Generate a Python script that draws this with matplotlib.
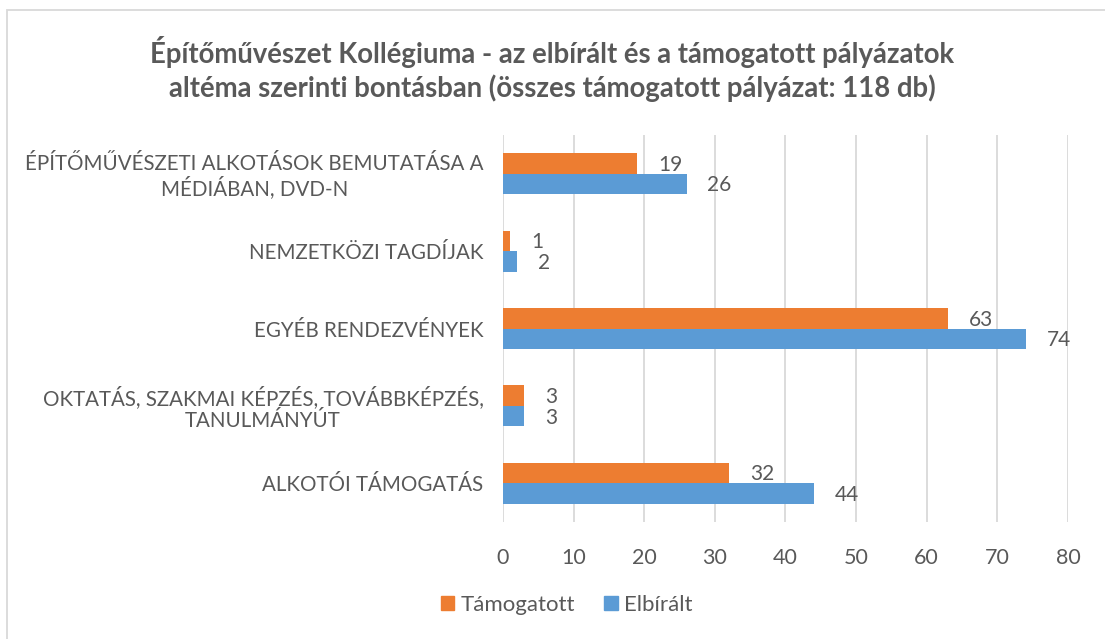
import matplotlib.pyplot as plt
import matplotlib.patches as mpatches
import numpy as np

plt.rcParams['font.family'] = ['Lato', 'DejaVu Sans']

# data (bottom to top, as drawn)
categories = ["ALKOTÓI TÁMOGATÁS",
              "OKTATÁS, SZAKMAI KÉPZÉS, TOVÁBBKÉPZÉS,\nTANULMÁNYÚT",
              "EGYÉB RENDEZVÉNYEK",
              "NEMZETKÖZI TAGDÍJAK",
              "ÉPÍTŐMŰVÉSZETI ALKOTÁSOK BEMUTATÁSA A\nMÉDIÁBAN, DVD-N"]
elbiralt = [44, 3, 74, 2, 26]
tamogatott = [32, 3, 63, 1, 19]
xticks = [0, 10, 20, 30, 40, 50, 60, 70, 80]

title = ("Építőművészet Kollégiuma - az elbírált és a támogatott pályázatok\n"
         "altéma szerinti bontásban (összes támogatott pályázat: 118 db)")

blue = "#5B9BD5"
orange = "#ED7D31"
txt = "#595959"
grid = "#D9D9D9"

fig = plt.figure(figsize=(11.05, 6.39), dpi=100)
ax = fig.add_axes([0.4552, 0.1831, 0.5113, 0.6056])

y = np.arange(len(categories))
h = 0.265
ax.barh(y - h/2, elbiralt, height=h, color=blue, zorder=3)
ax.barh(y + h/2, tamogatott, height=h, color=orange, zorder=3)

# value labels
for yy, v in zip(y, elbiralt):
    ax.annotate(str(v), (v, yy - h/2), xytext=(15, -1), textcoords='offset points',
                va='center', ha='left', fontsize=15, color=txt)
for yy, v in zip(y, tamogatott):
    ax.annotate(str(v), (v, yy + h/2), xytext=(15, -1), textcoords='offset points',
                va='center', ha='left', fontsize=15, color=txt)

ax.set_xlim(0, 80)
ax.set_ylim(-0.5, len(categories) - 0.5)
ax.set_xticks(xticks)
ax.set_yticks(y)
ax.set_yticklabels(categories, multialignment='center', linespacing=1.1)
ax.tick_params(axis='x', length=0, pad=19, labelsize=15.5, colors=txt)
ax.tick_params(axis='y', length=0, pad=14, labelsize=14.8, colors=txt)
ax.xaxis.grid(True, color=grid, linewidth=1.3, zorder=0)
for s in ax.spines.values():
    s.set_visible(False)

fig.text(0.5, 0.892, title, ha='center', va='center', fontsize=19.8,
         fontweight='bold', color=txt, linespacing=1.32)

handles = [mpatches.Patch(color=orange, label="Támogatott"),
           mpatches.Patch(color=blue, label="Elbírált")]
fig.legend(handles=handles, loc='center', bbox_to_anchor=(0.513, 1 - 605/639),
           ncol=2, frameon=False, fontsize=16, handlelength=0.6, handleheight=0.6,
           handletextpad=0.3, columnspacing=1.3, labelcolor=txt)

# chart area border
fig.add_artist(mpatches.Rectangle((7/1105, -0.1), 1.2, 1 - 10/639 + 0.1,
                                  transform=fig.transFigure, fill=False,
                                  edgecolor=grid, linewidth=1.3))

fig.savefig("out.png", dpi=100)
